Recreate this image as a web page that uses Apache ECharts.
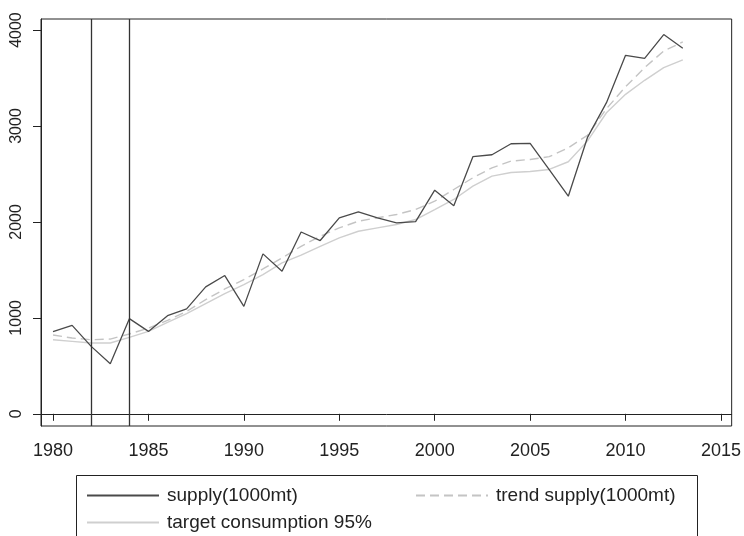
<!DOCTYPE html>
<html>
<head>
<meta charset="utf-8">
<script src="https://cdn.jsdelivr.net/npm/echarts@6/dist/echarts.min.js"></script>
<style>html,body{margin:0;padding:0;background:#fff}#c{width:744px;height:536px}</style>
</head>
<body>
<div id="c"></div>
<script>
const years = [1980,1981,1982,1983,1984,1985,1986,1987,1988,1989,1990,1991,1992,1993,1994,1995,1996,1997,1998,1999,2000,2001,2002,2003,2004,2005,2006,2007,2008,2009,2010,2011,2012,2013];
const supply = [856,922,703,522,992,859,1023,1093,1323,1441,1120,1667,1485,1895,1806,2043,2105,2043,1991,2004,2331,2168,2680,2700,2815,2818,2544,2268,2878,3243,3737,3705,3953,3810];
const trendSupply = [821,790,772,779,832,894,974,1068,1190,1301,1399,1510,1625,1746,1851,1938,2007,2043,2077,2129,2216,2338,2460,2564,2634,2651,2680,2773,2902,3180,3409,3608,3782,3876];
const targetConsumption = [772,755,738,738,797,859,953,1044,1148,1253,1347,1451,1573,1655,1746,1834,1903,1938,1973,2025,2129,2234,2373,2477,2515,2526,2547,2627,2842,3138,3330,3476,3608,3688];
const xTicks = [1980,1985,1990,1995,2000,2005,2010,2015];
const yTicks = [0,1000,2000,3000,4000];
const markYears = [1982,1984];
const names = ['supply(1000mt)','trend supply(1000mt)','target consumption 95%'];

const pairs = arr => years.map((y,i)=>[y,arr[i]]);
const font = 'Liberation Sans, Arial, Helvetica, sans-serif';
const chart = echarts.init(document.getElementById('c'));
const legendBase = {orient:'horizontal', padding:0, itemWidth:72, itemHeight:14, selectedMode:false,
  itemStyle:{opacity:0, borderWidth:0},
  textStyle:{fontFamily:font, fontSize:19, color:'#222', padding:[0,0,0,3]}};
chart.setOption({
  animation:false,
  backgroundColor:'#fff',
  grid:{left:41, right:10, top:19, bottom:110, show:true, borderColor:'#222', borderWidth:1, backgroundColor:'#fff'},
  xAxis:{type:'value', min:1979.37, max:2015.56,
    axisLine:{show:true, lineStyle:{color:'#222'}},
    axisTick:{show:true, length:7, customValues:xTicks, lineStyle:{color:'#222'}},
    axisLabel:{customValues:xTicks, margin:16, fontFamily:font, fontSize:18, color:'#222', formatter:v=>String(v)},
    splitLine:{show:false}},
  yAxis:{type:'value', min:-127, max:4115,
    axisLine:{show:true, lineStyle:{color:'#222'}},
    axisTick:{show:true, length:8, customValues:yTicks, lineStyle:{color:'#222'}},
    axisLabel:{customValues:yTicks, rotate:90, margin:16, fontFamily:font, fontSize:16, color:'#222', formatter:v=>String(v)},
    splitLine:{show:false}},
  legend:[
    Object.assign({data:[names[0]], left:86, top:486}, legendBase),
    Object.assign({data:[names[1]], left:415, top:486}, legendBase),
    Object.assign({data:[names[2]], left:86, top:513}, legendBase)
  ],
  graphic:[{type:'rect', shape:{x:76.5, y:475.5, width:621, height:70}, style:{fill:'none', stroke:'#222', lineWidth:1}, silent:true}],
  series:[
    {name:names[2], type:'line', data:pairs(targetConsumption), symbol:'none', lineStyle:{color:'#cfcfcf', width:1.4}, itemStyle:{color:'#cfcfcf'}, z:2},
    {name:names[1], type:'line', data:pairs(trendSupply), symbol:'none', lineStyle:{color:'#c4c4c4', width:1.4, type:[9,5]}, itemStyle:{color:'#c4c4c4'}, z:3},
    {name:names[0], type:'line', data:pairs(supply), symbol:'none', lineStyle:{color:'#4a4a4a', width:1.3}, itemStyle:{color:'#4a4a4a'}, z:4,
      markLine:{silent:true, symbol:'none', label:{show:false}, lineStyle:{color:'#333', type:'solid', width:1.3},
        data:markYears.map(y=>({xAxis:y}))}}
  ]
});
</script>
</body>
</html>
